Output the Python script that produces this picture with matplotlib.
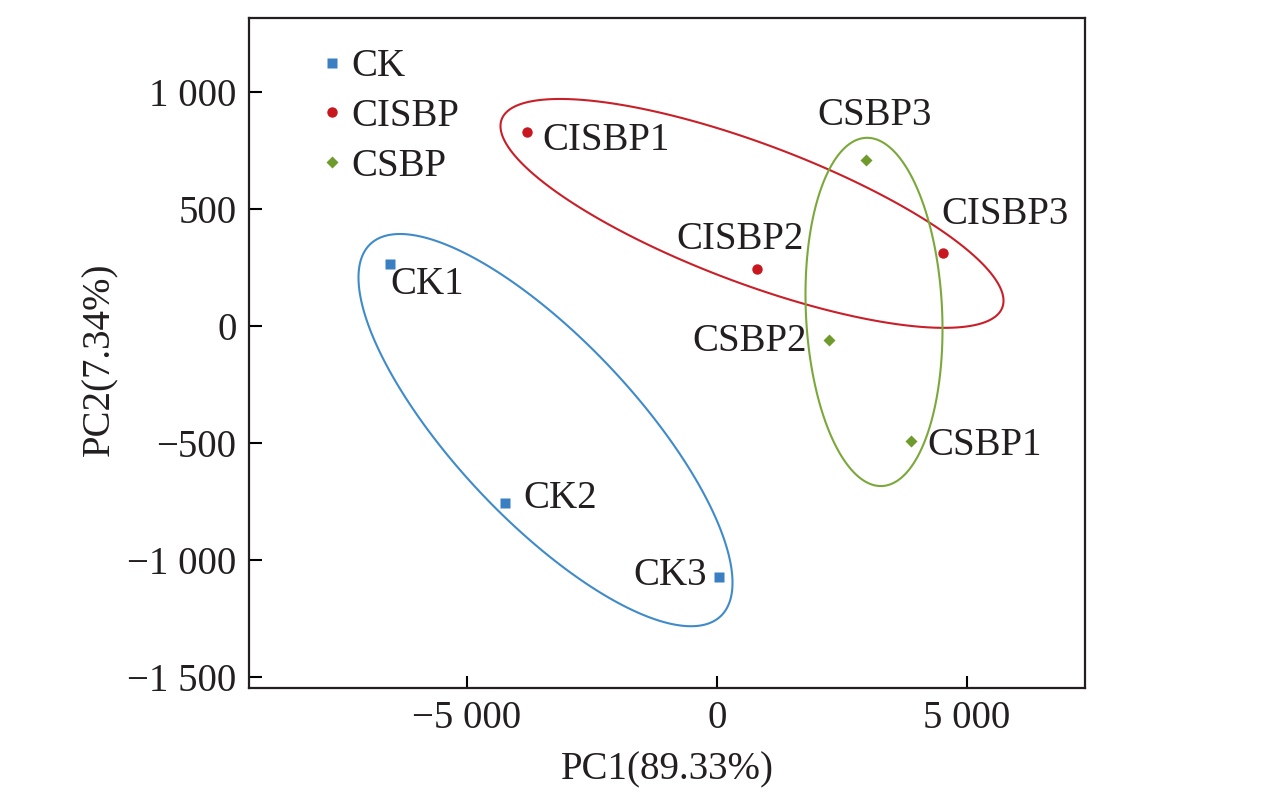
import numpy as np
import matplotlib.pyplot as plt
from matplotlib.ticker import FuncFormatter

plt.rcParams['font.family'] = ['Liberation Serif', 'DejaVu Serif']

# 样本得分 (PC1, PC2)
groups = ['CK', 'CISBP', 'CSBP']
names = {
    'CK': ['CK1', 'CK2', 'CK3'],
    'CISBP': ['CISBP1', 'CISBP2', 'CISBP3'],
    'CSBP': ['CSBP1', 'CSBP2', 'CSBP3'],
}
pc1 = {
    'CK': [-6540, -4240, 40],
    'CISBP': [-3800, 800, 4520],
    'CSBP': [3880, 2240, 2980],
}
pc2 = {
    'CK': [265, -756, -1073],
    'CISBP': [829, 244, 312],
    'CSBP': [-491, -60, 709],
}

# 置信椭圆: 中心, x半宽, y半高, 相关系数
ell_cx = {'CK': -3430, 'CISBP': 700, 'CSBP': 3140}
ell_cy = {'CK': -445, 'CISBP': 481, 'CSBP': 60}
ell_hx = {'CK': 3740, 'CISBP': 5030, 'CSBP': 1370}
ell_hy = {'CK': 838, 'CISBP': 489, 'CSBP': 744}
ell_r = {'CK': -0.778, 'CISBP': -0.763, 'CSBP': -0.10}

colors = {'CK': '#3a7fc2', 'CISBP': '#c8171f', 'CSBP': '#6f9a2c'}
line_colors = {'CK': '#3f8bca', 'CISBP': '#c91f28', 'CSBP': '#7aa83a'}
markers = {'CK': 's', 'CISBP': 'o', 'CSBP': 'D'}
msizes = {'CK': 7.5, 'CISBP': 7.5, 'CSBP': 6}

# 标签偏移 (points)
offsets = {
    'CK1': (0, -15, 'left'), 'CK2': (13, 3, 'left'), 'CK3': (-9, 1, 'right'),
    'CISBP1': (11, -6, 'left'), 'CISBP2': (-12, 21, 'center'), 'CISBP3': (-1, 28, 'left'),
    'CSBP1': (12, -3, 'left'), 'CSBP2': (-16, -1, 'right'), 'CSBP3': (6, 32, 'center'),
}

fs = 28
txt_color = '#231f20'

fig = plt.figure(figsize=(12.76, 7.95), dpi=100)
ax = fig.add_axes([249/1276, 1 - 688/795, (1085-249)/1276, (688-18)/795])

t = np.linspace(0, 2*np.pi, 400, endpoint=False)
for g in groups:
    r = ell_r[g]
    ex = ell_cx[g] + ell_hx[g]*np.cos(t)
    ey = ell_cy[g] + ell_hy[g]*(r*np.cos(t) + np.sqrt(1 - r**2)*np.sin(t))
    ax.fill(ex, ey, fill=False, edgecolor=line_colors[g], lw=1.5, zorder=2)
    ax.plot(pc1[g], pc2[g], linestyle='none', marker=markers[g], ms=msizes[g],
            color=colors[g], mec='none', label=g, zorder=3)
    for n, x, y in zip(names[g], pc1[g], pc2[g]):
        dx, dy, ha = offsets[n]
        ax.annotate(n, (x, y), xytext=(dx, dy), textcoords='offset points',
                    ha=ha, va='center', fontsize=fs, color=txt_color)

ax.set_xlim(-9360, 7360)
ax.set_ylim(-1547, 1316)
ax.set_xticks([-5000, 0, 5000])
ax.set_yticks([-1500, -1000, -500, 0, 500, 1000])

def fmt(v, pos):
    s = '{:,.0f}'.format(abs(v)).replace(',', ' ')
    return ('\u2212' + s) if v < 0 else s

ax.xaxis.set_major_formatter(FuncFormatter(fmt))
ax.yaxis.set_major_formatter(FuncFormatter(fmt))
ax.tick_params(direction='in', length=9, width=1.5, labelsize=fs,
               labelcolor=txt_color, pad=9)
for sp in ax.spines.values():
    sp.set_linewidth(1.6)
    sp.set_color('#231f20')

ax.set_xlabel('PC1(89.33%)', fontsize=fs, color=txt_color)
ax.set_ylabel('PC2(7.34%)', fontsize=fs, color=txt_color)
ax.xaxis.set_label_coords(0.5, -0.094)
ax.yaxis.set_label_coords(-0.156, 0.49)

leg = ax.legend(loc='upper left', bbox_to_anchor=(0.088, 0.955), frameon=False,
                fontsize=fs, handlelength=0.5, handletextpad=0.25,
                labelspacing=0.33, borderpad=0, borderaxespad=0)
for tx in leg.get_texts():
    tx.set_color(txt_color)

plt.savefig('out.png', dpi=100)
